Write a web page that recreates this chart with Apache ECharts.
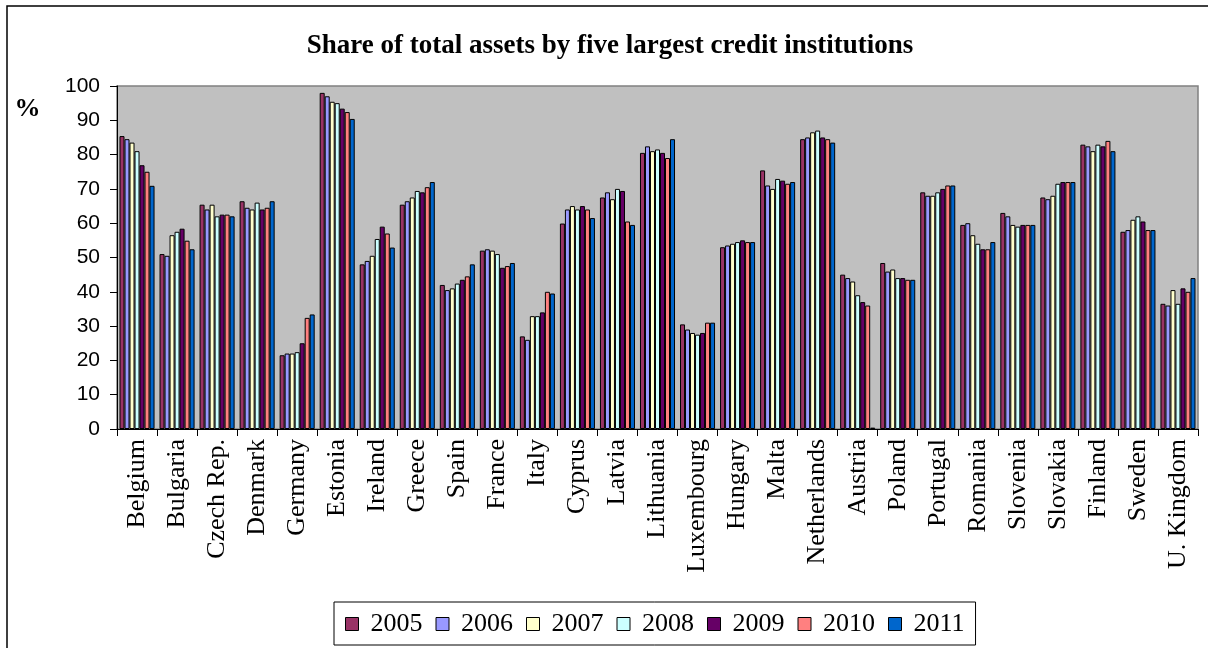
<!DOCTYPE html>
<html>
<head>
<meta charset="utf-8">
<script src="https://cdn.jsdelivr.net/npm/echarts@6/dist/echarts.min.js"></script>
<style>
html,body{margin:0;padding:0;background:#fff;}
#chart{width:1208px;height:648px;}
</style>
</head>
<body>
<div id="chart"></div>
<script>
const countries = ["Belgium","Bulgaria","Czech Rep.","Denmark","Germany","Estonia","Ireland","Greece","Spain","France","Italy","Cyprus","Latvia","Lithuania","Luxembourg","Hungary","Malta","Netherlands","Austria","Poland","Portugal","Romania","Slovenia","Slovakia","Finland","Sweden","U. Kingdom"];
const years = ["2005","2006","2007","2008","2009","2010","2011"];
const yearColors = ["#993366","#9999FF","#FFFFCC","#CCFFFF","#660066","#FF8080","#0066CC"];
const yTicks = [0,10,20,30,40,50,60,70,80,90,100];

const v2005 = [85.4,51,65.4,66.4,21.5,98,48,65.4,42,52,27,59.9,67.5,80.5,30.5,53,75.4,84.5,45,48.4,69,59.5,63,67.5,82.9,57.5,36.5];
const v2006 = [84.5,50.5,64,64.5,22,97,49,66.4,40.5,52.4,26,64,69,82.4,29,53.5,71,85,44,45.9,68,60,62,67,82.4,58,36];
const v2007 = [83.5,56.5,65.4,64,22,95.4,50.5,67.5,41,52,32.9,65,67,81,28,54,70,86.5,43,46.5,68,56.5,59.5,68,81,61,40.5];
const v2008 = [81,57.5,62,66,22.4,95,55.4,69.4,42.4,51,32.9,64,70,81.5,27.5,54.5,72.9,87,39,44,69,54,59,71.5,82.9,62,36.5];
const v2009 = [76.9,58.4,62.5,64,25,93.4,59,69,43.5,47,34,65,69.4,80.5,28,55,72.4,85,37,44,70,52.4,59.5,72,82.4,60.5,41];
const v2010 = [75,54.9,62.5,64.5,32.4,92.4,57,70.5,44.5,47.5,40,64,60.5,79,31,54.5,71.5,84.5,36,43.5,71,52.4,59.5,72,84,58,40];
const v2011 = [70.9,52.4,62,66.4,33.4,90.4,52.9,72,48,48.4,39.5,61.5,59.5,84.5,31,54.5,72,83.5,0.4,43.5,71,54.5,59.5,72,81,58,44];
const seriesValues = [v2005,v2006,v2007,v2008,v2009,v2010,v2011];

const chart = echarts.init(document.getElementById('chart'), null, {renderer:'canvas'});
const serif = 'Liberation Serif, Times New Roman, serif';
const sans = 'Liberation Sans, Arial, sans-serif';

const option = {
  animation:false,
  backgroundColor:'#ffffff',
  grid:{left:117,right:10,top:86,bottom:219,show:true,backgroundColor:'#C0C0C0',borderColor:'#808080',borderWidth:1.5},
  xAxis:{
    type:'category',
    data:countries,
    axisLine:{lineStyle:{color:'#000',width:1}},
    axisTick:{show:true,length:7,lineStyle:{color:'#000'}},
    axisLabel:{rotate:90,margin:10,interval:0,fontFamily:serif,fontSize:26,color:'#000'}
  },
  yAxis:{
    type:'value',min:0,max:100,interval:10,
    axisLine:{show:true,lineStyle:{color:'#000',width:1}},
    axisTick:{show:true,length:7,lineStyle:{color:'#000'}},
    splitLine:{show:false},
    axisLabel:{margin:17,fontFamily:sans,fontSize:21,color:'#000',
      formatter:function(v){return yTicks.indexOf(v)>=0?String(v):'';}}
  },
  legend:{
    left:334,top:602,
    padding:[9,11,8,11],
    borderColor:'#000',borderWidth:1,
    backgroundColor:'#fff',
    itemWidth:13,itemHeight:13,itemGap:13,
    icon:'rect',
    itemStyle:{borderColor:'#000',borderWidth:1},
    textStyle:{fontFamily:serif,fontSize:26,color:'#000',padding:[0,0,0,7]},
    data:years
  },
  series: years.map(function(y,i){
    return {
      name:y,type:'bar',data:seriesValues[i],
      barGap:'0%',barCategoryGap:'12.5%',
      itemStyle:{color:yearColors[i],borderColor:'#000',borderWidth:1}
    };
  }),
  graphic:[
    {type:'rect',z:-10,silent:true,shape:{x:7,y:6,width:1400,height:800},style:{fill:'none',stroke:'#000',lineWidth:1.5}},
    {type:'text',x:610,y:46.5,style:{text:'Share of total assets by five largest credit institutions',font:'bold 27px '+serif,fill:'#000',textAlign:'center',textVerticalAlign:'middle'}},
    {type:'text',x:27.5,y:109,style:{text:'%',font:'bold 26px '+serif,fill:'#000',textAlign:'center',textVerticalAlign:'middle'}}
  ]
};
chart.setOption(option);
</script>
</body>
</html>
